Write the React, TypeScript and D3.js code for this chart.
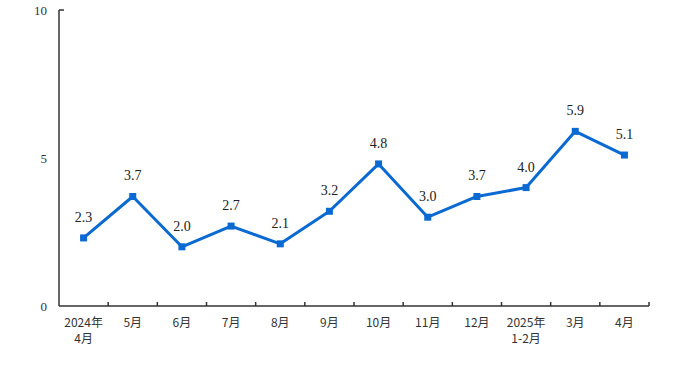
import * as d3 from "d3";

const categories = ["2024年\n4月", "5月", "6月", "7月", "8月", "9月", "10月", "11月", "12月", "2025年\n1-2月", "3月", "4月"];
const values = [2.3, 3.7, 2.0, 2.7, 2.1, 3.2, 4.8, 3.0, 3.7, 4.0, 5.9, 5.1];
const yTicks = [0, 5, 10];

const width = 680;
const height = 375;
const margin = { top: 10, right: 31, bottom: 69, left: 59 };

export default function App() {
  const x = d3
    .scaleBand<number>()
    .domain(values.map((_, i) => i))
    .range([margin.left, width - margin.right]);
  const y = d3.scaleLinear().domain([0, 10]).range([height - margin.bottom, margin.top]);

  const path = d3
    .line<number>()
    .x((_, i) => (x(i) ?? 0) + x.bandwidth() / 2)
    .y((d) => y(d))(values);

  const axisColor = "#333";
  const lineColor = "#0a6ad2";
  const numFont = "'Liberation Serif', 'DejaVu Serif', serif";
  const cjkFont = "'Noto Sans CJK SC', 'Liberation Serif', serif";

  return (
    <svg width={width} height={height} style={{ position: "absolute", left: 0, top: 0, background: "#fff" }}>
      {/* axes */}
      <line x1={margin.left} x2={margin.left} y1={y(10)} y2={y(0)} stroke={axisColor} strokeWidth={1.5} />
      <line x1={margin.left} x2={margin.left + 5} y1={y(10)} y2={y(10)} stroke={axisColor} strokeWidth={1.5} />
      <line x1={margin.left} x2={width - margin.right} y1={y(0)} y2={y(0)} stroke={axisColor} strokeWidth={1.5} />
      {d3.range(1, values.length + 1).map((i) => {
        const xx = margin.left + i * x.step();
        return <line key={i} x1={xx} x2={xx} y1={y(0)} y2={y(0) - 4} stroke={axisColor} strokeWidth={1.5} />;
      })}
      {yTicks.map((t) => (
        <text key={t} x={margin.left - 12} y={y(t)} dy="0.35em" textAnchor="end" fontFamily={numFont} fontSize={13} fill={axisColor}>
          {t}
        </text>
      ))}
      {categories.map((c, i) => {
        const cx = (x(i) ?? 0) + x.bandwidth() / 2;
        return c.split("\n").map((l, j) => (
          <text key={`${i}-${j}`} x={cx} y={y(0) + 21 + j * 16} textAnchor="middle" fontFamily={cjkFont} fontSize={12} fill={axisColor}>
            {l}
          </text>
        ));
      })}
      {/* series */}
      <path d={path ?? ""} fill="none" stroke={lineColor} strokeWidth={3} strokeLinejoin="round" />
      {values.map((v, i) => {
        const cx = (x(i) ?? 0) + x.bandwidth() / 2;
        return (
          <g key={i}>
            <rect x={cx - 3.5} y={y(v) - 3.5} width={7} height={7} fill={lineColor} />
            <text x={cx} y={y(v) - 16} textAnchor="middle" fontFamily={numFont} fontSize={14} fill="#222">
              {v.toFixed(1)}
            </text>
          </g>
        );
      })}
    </svg>
  );
}
